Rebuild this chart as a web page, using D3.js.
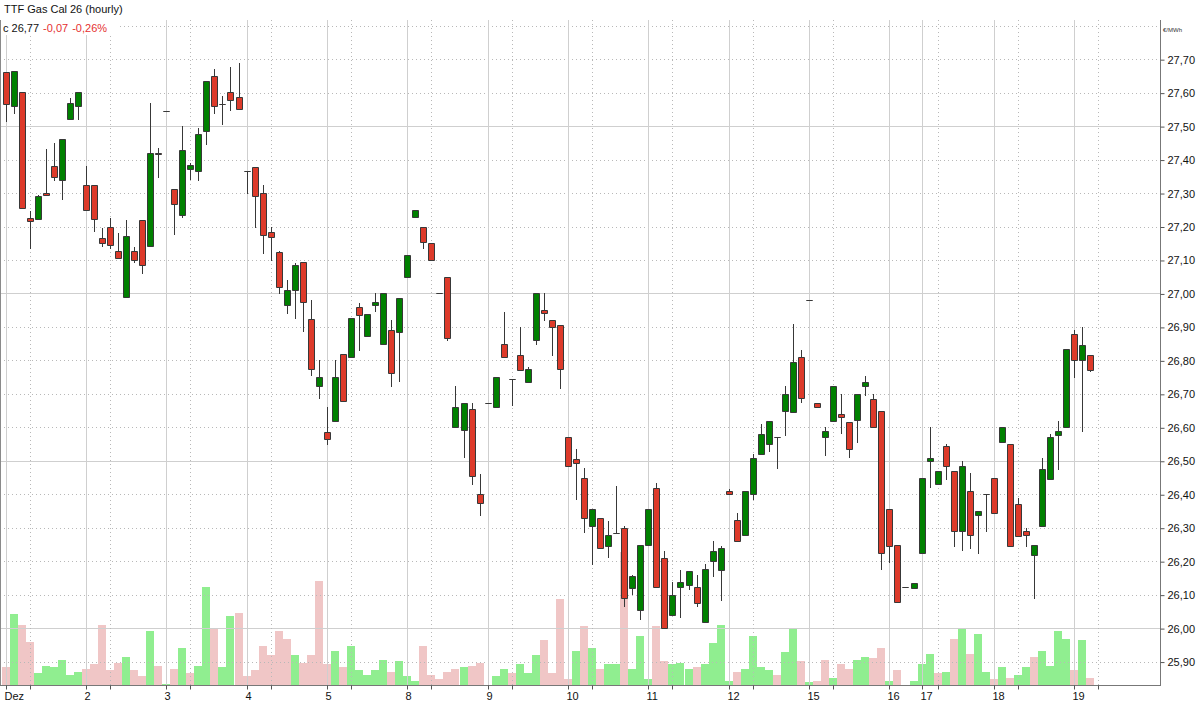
<!DOCTYPE html>
<html><head><meta charset="utf-8">
<script src="https://cdn.jsdelivr.net/npm/d3@7"></script>
<style>
body{margin:0;background:#fff}
svg{display:block}
text{font-family:"Liberation Sans",Arial,sans-serif}
</style></head>
<body>
<svg id="chart" width="1200" height="705"></svg>
<script>
// ---- Data (hourly candles, TTF Gas Cal 26) ----
const openP = [27.661,27.559,27.601,27.224,27.223,27.300,27.380,27.338,27.520,27.559,
27.324,27.324,27.167,27.200,27.128,26.988,27.128,27.220,27.143,27.419,
27.544,27.313,27.233,27.373,27.365,27.484,27.649,27.567,27.601,27.588,
27.366,27.379,27.299,27.185,27.123,26.965,27.009,27.094,26.923,26.722,
26.585,26.618,26.818,26.810,26.959,26.874,26.965,26.849,26.890,26.884,
27.048,27.229,27.200,27.150,27.002,27.048,26.600,26.593,26.654,26.400,
26.674,26.662,26.849,26.743,26.815,26.734,26.860,26.950,26.922,26.907,
26.570,26.504,26.448,26.306,26.328,26.244,26.283,26.298,26.121,26.054,
26.248,26.418,26.209,26.039,26.122,26.128,26.122,26.018,26.202,26.173,
26.410,26.322,26.277,26.400,26.520,26.549,26.572,26.648,26.645,26.810,
26.979,26.674,26.571,26.618,26.639,26.615,26.623,26.722,26.684,26.648,
26.355,26.248,26.122,26.120,26.224,26.499,26.430,26.543,26.468,26.289,
26.409,26.338,26.400,26.448,26.556,26.549,26.371,26.291,26.217,26.306,
26.446,26.578,26.600,26.879,26.800,26.815];
const highP = [27.661,27.665,27.601,27.246,27.295,27.432,27.450,27.461,27.584,27.601,
27.380,27.324,27.195,27.226,27.180,27.220,27.139,27.220,27.570,27.434,
27.544,27.313,27.500,27.391,27.493,27.634,27.670,27.590,27.676,27.690,
27.366,27.379,27.324,27.200,27.128,27.040,27.090,27.094,26.980,26.801,
26.661,26.801,26.818,26.928,26.972,26.938,27.000,27.000,26.921,26.987,
27.115,27.249,27.200,27.150,27.002,27.048,26.722,26.674,26.674,26.461,
26.674,26.749,26.945,26.743,26.900,26.779,27.000,27.000,26.922,26.907,
26.570,26.535,26.478,26.355,26.328,26.321,26.424,26.305,26.160,26.248,
26.355,26.434,26.229,26.138,26.173,26.172,26.159,26.193,26.261,26.245,
26.417,26.345,26.410,26.521,26.610,26.618,26.572,26.722,26.909,26.830,
26.979,26.674,26.601,26.722,26.699,26.615,26.699,26.752,26.700,26.648,
26.355,26.248,26.122,26.134,26.448,26.601,26.468,26.550,26.468,26.500,
26.463,26.349,26.400,26.448,26.600,26.549,26.389,26.300,26.248,26.509,
26.580,26.620,26.833,26.890,26.900,26.815];
const lowP = [27.515,27.538,27.255,27.137,27.223,27.293,27.338,27.283,27.520,27.520,
27.248,27.188,27.143,27.137,27.105,26.988,27.093,27.060,27.143,27.349,
27.544,27.179,27.229,27.343,27.338,27.448,27.538,27.505,27.549,27.552,
27.299,27.200,27.122,27.099,27.000,26.943,26.928,26.889,26.757,26.688,
26.550,26.618,26.678,26.810,26.832,26.874,26.949,26.849,26.722,26.737,
27.048,27.229,27.137,27.100,27.002,26.862,26.600,26.512,26.432,26.337,
26.674,26.662,26.809,26.668,26.770,26.734,26.848,26.921,26.815,26.718,
26.484,26.387,26.288,26.193,26.238,26.212,26.283,26.066,26.102,26.028,
26.248,26.122,26.000,26.039,26.032,26.118,26.066,26.018,26.157,26.083,
26.400,26.260,26.277,26.387,26.520,26.528,26.478,26.578,26.645,26.677,
26.979,26.660,26.518,26.618,26.584,26.512,26.556,26.696,26.600,26.178,
26.199,26.077,26.122,26.120,26.224,26.423,26.430,26.446,26.246,26.232,
26.238,26.223,26.289,26.343,26.556,26.244,26.276,26.246,26.091,26.306,
26.446,26.476,26.600,26.749,26.588,26.768];
const closeP = [27.565,27.665,27.255,27.216,27.291,27.293,27.349,27.461,27.568,27.601,
27.248,27.223,27.152,27.146,27.105,27.173,27.099,27.084,27.420,27.416,
27.544,27.268,27.430,27.385,27.476,27.634,27.559,27.567,27.579,27.552,
27.366,27.290,27.175,27.170,27.018,27.009,27.085,26.973,26.773,26.749,
26.565,26.749,26.678,26.928,26.935,26.938,26.973,27.000,26.763,26.987,
27.115,27.249,27.154,27.100,27.002,26.868,26.660,26.674,26.454,26.373,
26.674,26.749,26.809,26.743,26.770,26.773,27.000,26.943,26.899,26.773,
26.484,26.493,26.328,26.355,26.238,26.277,26.283,26.091,26.155,26.248,
26.355,26.122,26.000,26.098,26.137,26.172,26.074,26.178,26.229,26.238,
26.400,26.260,26.410,26.509,26.580,26.618,26.572,26.699,26.794,26.689,
26.979,26.660,26.588,26.722,26.630,26.534,26.699,26.734,26.600,26.223,
26.244,26.077,26.122,26.134,26.448,26.507,26.468,26.484,26.289,26.483,
26.277,26.349,26.400,26.343,26.600,26.244,26.276,26.279,26.248,26.474,
26.571,26.588,26.833,26.800,26.846,26.772];
const volume = [18,71,60,43,12,19,18,25,10,13,
16,21,60,15,22,28,15,9,54,19,
1,16,37,12,19,98,56,18,69,72,
9,15,39,30,54,46,30,22,30,104,
21,34,18,39,15,10,15,25,13,24,
9,4,39,10,6,13,16,18,19,22,
0,9,16,12,21,12,30,45,12,86,
6,34,59,37,16,21,21,133,16,49,
6,59,24,21,22,16,18,21,42,60,
4,13,16,49,18,15,10,33,56,24,
3,4,25,7,21,16,25,28,27,37,
4,15,0,4,21,31,12,13,46,56,
31,51,13,6,18,7,10,18,28,34,
19,54,46,15,45,7];
const dayLabels = ["Dez","2","3","4","5","8","9","10","11","12","15","16","17","18","19"];
const dayStartIdx = [0,10,20,30,40,50,60,70,80,90,100,110,114,123,133];
const minorTickIdx = [3,13,23,33,43,53,63,73,83,93,103,116,126,136];
const priceTicks = [25.9,26.0,26.1,26.2,26.3,26.4,26.5,26.6,26.7,26.8,26.9,27.0,27.1,27.2,27.3,27.4,27.5,27.6,27.7,27.8];
const priceLabelTicks = [25.9,26.0,26.1,26.2,26.3,26.4,26.5,26.6,26.7,26.8,26.9,27.0,27.1,27.2,27.3,27.4,27.5,27.6,27.7];

// ---- Layout ----
const plotLeft = 0, plotRight = 1160, plotTop = 20, plotBottom = 685;
const svg = d3.select('#chart');
const candles = openP.map((o,i)=>({i, o, h:highP[i], l:lowP[i], c:closeP[i], v:volume[i],
  up: i===0 ? closeP[i]>=o : closeP[i]>=closeP[i-1]}));

const x = d3.scaleLinear().domain([0, openP.length-1]).range([5.5, 1090.3]);
const y = d3.scaleLinear().domain([25.83, 27.823]).range([685, 18]);
const yv = d3.scaleLinear().domain([0, 100]).range([685, 585]);
const cx = i => Math.round(x(i));
const ry = v => Math.round(y(v));

const RED = '#dd3a2a', GREEN = '#008000', EDGE = '#383838';

// volume bars
svg.append('g').selectAll('rect').data(candles).join('rect')
  .attr('x', d => cx(d.i)-4).attr('width', 8)
  .attr('y', d => Math.round(yv(d.v))).attr('height', d => plotBottom - Math.round(yv(d.v)))
  .attr('fill', d => d.up ? '#90ee90' : '#f0c6c6');

// grid
const grid = svg.append('g');
grid.selectAll('line.h').data(priceTicks).join('line').attr('class','h')
  .attr('x1', plotLeft).attr('x2', plotRight)
  .attr('y1', d => ry(d)+0.5).attr('y2', d => ry(d)+0.5)
  .attr('stroke', d => Math.round(d*10)%5===0 ? '#cfcfcf' : '#b8b8b8')
  .attr('stroke-dasharray', d => Math.round(d*10)%5===0 ? null : '1,3');
grid.selectAll('line.vmaj').data(dayStartIdx).join('line').attr('class','vmaj')
  .attr('x1', d => cx(d)+0.5).attr('x2', d => cx(d)+0.5)
  .attr('y1', plotTop).attr('y2', plotBottom)
  .attr('stroke', '#cfcfcf');
grid.selectAll('line.vmin').data(minorTickIdx).join('line').attr('class','vmin')
  .attr('x1', d => cx(d)+0.5).attr('x2', d => cx(d)+0.5)
  .attr('y1', plotTop).attr('y2', plotBottom)
  .attr('stroke', '#b8b8b8').attr('stroke-dasharray','1,3');

// frame lines
svg.append('line').attr('x1',0.5).attr('x2',0.5).attr('y1',plotTop).attr('y2',plotBottom).attr('stroke','#8a8a8a');
svg.append('line').attr('x1',plotRight+0.5).attr('x2',plotRight+0.5).attr('y1',plotTop).attr('y2',plotBottom+0.5).attr('stroke','#777');
svg.append('line').attr('x1',0).attr('x2',plotRight+1).attr('y1',plotBottom+0.5).attr('y2',plotBottom+0.5).attr('stroke','#777');

// y axis (right)
const fmt = d3.format('.2f');
const yAxis = d3.axisRight(y).tickValues(priceLabelTicks).tickSize(4).tickPadding(3)
  .tickFormat(d => fmt(d).replace('.', ','));
const gy = svg.append('g').attr('transform', `translate(${plotRight+0.5},0.5)`).call(yAxis);
gy.select('.domain').remove();
gy.selectAll('.tick line').attr('stroke','#555');
gy.selectAll('.tick text').attr('font-size', 11).attr('fill','#111').attr('font-family','"Liberation Sans",Arial,sans-serif');
svg.append('text').attr('x', 1163).attr('y', 32).attr('font-size', 6).attr('fill','#333').text('€/MWh');

// x axis (bottom)
const xAxis = d3.axisBottom(x).tickValues(dayStartIdx).tickSize(4).tickPadding(3)
  .tickFormat((d,k) => dayLabels[k]);
const gx = svg.append('g').attr('transform', `translate(0.5,${plotBottom+0.5})`).call(xAxis);
gx.select('.domain').remove();
gx.selectAll('.tick').attr('transform', d => `translate(${cx(d)},0)`);
gx.selectAll('.tick line').attr('stroke','#555');
gx.selectAll('.tick text').attr('text-anchor','start').attr('x',-2).attr('font-size', 11).attr('fill','#111')
  .attr('font-family','"Liberation Sans",Arial,sans-serif');
const xMinor = d3.axisBottom(x).tickValues(minorTickIdx).tickSize(4).tickFormat('');
const gxm = svg.append('g').attr('transform', `translate(0.5,${plotBottom+0.5})`).call(xMinor);
gxm.select('.domain').remove();
gxm.selectAll('.tick').attr('transform', d => `translate(${cx(d)},0)`);
gxm.selectAll('.tick line').attr('stroke','#555');

// candles
const cg = svg.append('g').selectAll('g').data(candles).join('g');
cg.append('line')
  .attr('x1', d => cx(d.i)+0.5).attr('x2', d => cx(d.i)+0.5)
  .attr('y1', d => ry(d.h)).attr('y2', d => ry(d.l)+1)
  .attr('stroke', EDGE);
cg.append('path')
  .attr('d', d => {
    const top = ry(Math.max(d.o,d.c)) + 0.5;
    const hgt = ry(Math.min(d.o,d.c)) - ry(Math.max(d.o,d.c));
    const left = cx(d.i) - 2.5;
    return `M${left},${top}h6v${hgt}h-6Z`;
  })
  .attr('fill', d => d.c >= d.o ? GREEN : RED)
  .attr('stroke', EDGE).attr('stroke-width', 1);

// header
svg.append('rect').attr('x',1).attr('y',20).attr('width',118).attr('height',15).attr('fill','#fff');
svg.append('text').attr('x',4).attr('y',13).attr('font-size',11).attr('fill','#111').text('TTF Gas Cal 26 (hourly)');
const hdr = svg.append('text').attr('x',3).attr('y',31.5).attr('font-size',11);
hdr.append('tspan').attr('fill','#111').text('c 26,77');
hdr.append('tspan').attr('fill','#e53030').attr('dx',4).text('-0,07');
hdr.append('tspan').attr('fill','#e53030').attr('dx',4).text('-0,26%');
</script>
</body></html>
